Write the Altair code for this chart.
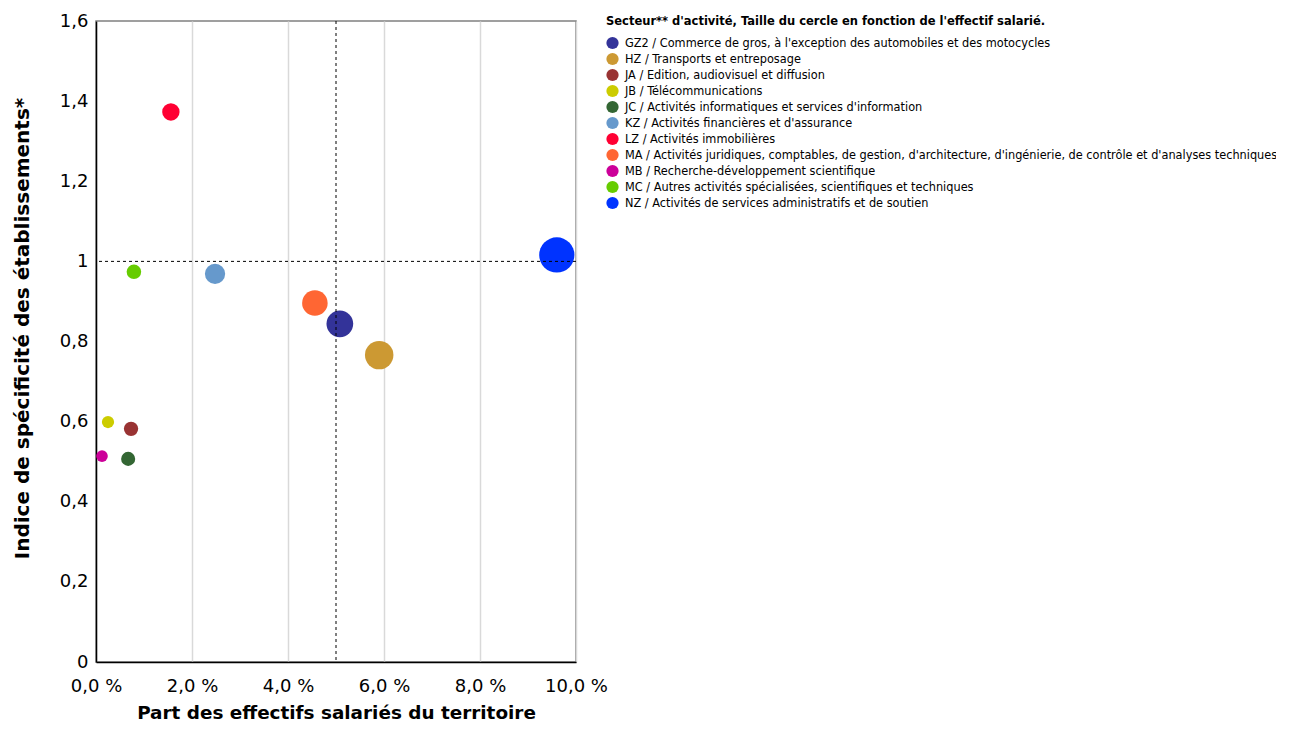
import altair as alt
import pandas as pd

codes = ["GZ2", "HZ", "JA", "JB", "JC", "KZ", "LZ", "MA", "MB", "MC", "NZ"]
labels = [
    "GZ2 / Commerce de gros, à l'exception des automobiles et des motocycles",
    "HZ / Transports et entreposage",
    "JA / Edition, audiovisuel et diffusion",
    "JB / Télécommunications",
    "JC / Activités informatiques et services d'information",
    "KZ / Activités financières et d'assurance",
    "LZ / Activités immobilières",
    "MA / Activités juridiques, comptables, de gestion, d'architecture, d'ingénierie, de contrôle et d'analyses techniques",
    "MB / Recherche-développement scientifique",
    "MC / Autres activités spécialisées, scientifiques et techniques",
    "NZ / Activités de services administratifs et de soutien",
]
part_effectifs = [5.08, 5.90, 0.73, 0.25, 0.67, 2.48, 1.56, 4.56, 0.125, 0.79, 9.60]
indice = [0.844, 0.766, 0.582, 0.599, 0.507, 0.969, 1.373, 0.896, 0.514, 0.974, 1.016]
colors = ["#333399", "#CC9933", "#993333", "#CCCC00", "#336633", "#6699CC",
          "#FF0033", "#FF6633", "#CC0099", "#66CC00", "#0033FF"]
draw_order = [9, 10, 5, 4, 3, 6, 7, 8, 1, 2, 11]

ref_x = [5.0]
ref_y = [1.0]

df = pd.DataFrame({
    "secteur": labels,
    "part": part_effectifs,
    "indice": indice,
    "ordre": draw_order,
})

font = "DejaVu Sans"

x_enc = alt.X("part:Q",
              scale=alt.Scale(domain=[0, 10], nice=False),
              axis=alt.Axis(values=[0, 2, 4, 6, 8, 10],
                            labelExpr="replace(format(datum.value, '.1f'), '.', ',') + ' %'",
                            title="Part des effectifs salariés du territoire",
                            grid=True, gridColor="#d9d9d9", gridWidth=1.5,
                            ticks=False, domainColor="#000000", domainWidth=1.5,
                            labelFont=font, labelFontSize=18, labelColor="#000000",
                            labelPadding=15, labelFlush=False,
                            titleFont=font, titleFontSize=18.4, titleFontWeight="bold",
                            titleColor="#000000", titleY=50, titleBaseline="middle"))
y_enc = alt.Y("indice:Q",
              scale=alt.Scale(domain=[0, 1.6], nice=False),
              axis=alt.Axis(values=[0, 0.2, 0.4, 0.6, 0.8, 1.0, 1.2, 1.4, 1.6],
                            labelExpr="replace(format(datum.value, '~g'), '.', ',')",
                            title="Indice de spécificité des établissements*",
                            grid=False, ticks=False,
                            domainColor="#000000", domainWidth=1.5,
                            labelFont=font, labelFontSize=18, labelColor="#000000",
                            labelPadding=8,
                            titleFont=font, titleFontSize=20, titleFontWeight="bold",
                            titleColor="#000000", titleX=-74, titleY=307,
                            titleAlign="center", titleBaseline="middle", titleAngle=-90))

points = alt.Chart(df).mark_circle(opacity=1, stroke=None).encode(
    x=x_enc,
    y=y_enc,
    color=alt.Color("secteur:N",
                    scale=alt.Scale(domain=labels, range=colors),
                    legend=alt.Legend(
                        title="Secteur** d'activité, Taille du cercle en fonction de l'effectif salarié.",
                        orient="none", legendX=510, legendY=-5,
                        titleFont=font, titleFontSize=11.5, titleFontWeight="bold",
                        titleColor="#000000", titleLimit=800, titlePadding=9,
                        labelFont="DejaVu Sans Condensed", labelFontSize=12.6,
                        labelColor="#000000", labelLimit=800,
                        symbolType="circle", symbolSize=150, symbolStrokeWidth=0,
                        symbolOpacity=1, rowPadding=2, labelOffset=6)),
    size=alt.Size("part:Q", scale=alt.Scale(domain=[0, 10], range=[120, 1290]), legend=None),
    order=alt.Order("ordre:Q"),
)

vline = alt.Chart(pd.DataFrame({"x": ref_x})).mark_rule(
    color="#000000", strokeDash=[3, 3], strokeWidth=1).encode(x="x:Q")
hline = alt.Chart(pd.DataFrame({"y": ref_y})).mark_rule(
    color="#000000", strokeDash=[3, 3], strokeWidth=1).encode(y="y:Q")

chart = alt.layer(points, vline, hline).properties(
    width=480, height=641,
    autosize=alt.AutoSizeParams(type="none"),
    padding={"left": 88, "top": 13, "right": 700, "bottom": 60},
    background="#ffffff",
).configure_view(stroke="#808080", strokeWidth=1.5)

chart.save("out.html", embed_options={"renderer": "svg", "actions": False})
